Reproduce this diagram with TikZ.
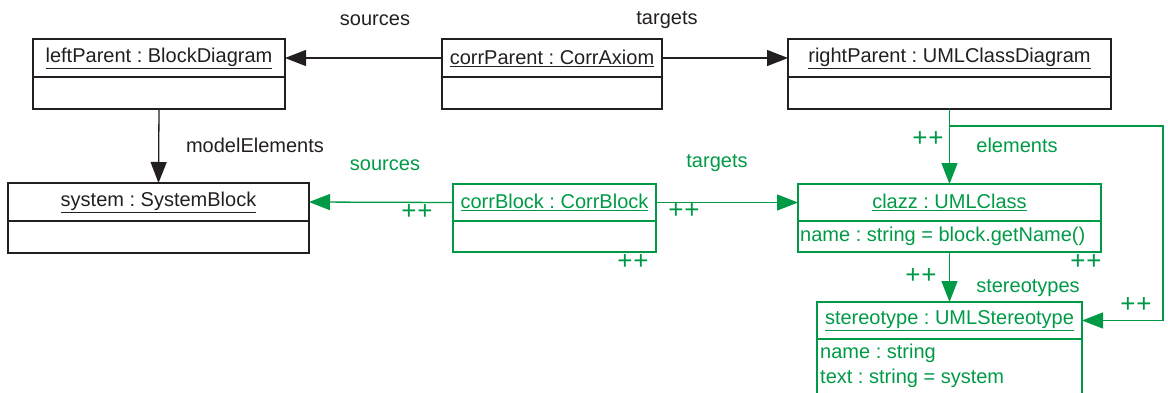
\documentclass[tikz,border=0pt]{standalone}
\usepackage{fontspec}
\setmainfont{Liberation Sans}
\usetikzlibrary{arrows.meta,positioning}
\definecolor{umlgreen}{RGB}{0,154,70}
\definecolor{umlblack}{RGB}{35,31,32}
\frenchspacing
\begin{document}
\begin{tikzpicture}[x=1pt,y=-1pt,
  font=\fontsize{20}{24}\selectfont\frenchspacing,
  bbox/.style={draw=umlblack,line width=2pt,rectangle,inner sep=0pt,outer sep=0pt,text=umlblack},
  gbox/.style={draw=umlgreen,line width=1.8pt,rectangle,inner sep=0pt,outer sep=0pt,text=umlgreen},
  conn/.style={draw=umlblack,line width=1.3pt,-{Triangle[length=21pt,width=16pt]}},
  gconn/.style={draw=umlgreen,line width=1.3pt,-{Triangle[length=21pt,width=16pt]}},
  blabel/.style={text=umlblack,inner sep=0pt},
  glabel/.style={text=umlgreen,inner sep=0pt},
  plus/.style={text=umlgreen,inner sep=0pt,font=\fontsize{26}{28}\selectfont},
  attr/.style={text=umlgreen,inner sep=0pt,anchor=west}]
\useasboundingbox (0,0) rectangle (1168,392);
% black boxes
\node[bbox,minimum width=252pt,minimum height=38pt] (lp) at (159,58) {\underline{leftParent : BlockDiagram}};
\node[bbox,minimum width=252pt,minimum height=32pt,anchor=north] (lpa) at (lp.south) {};
\node[bbox,minimum width=220pt,minimum height=38pt] (cp) at (552,58) {\underline{corrParent : CorrAxiom}};
\node[bbox,minimum width=220pt,minimum height=32pt,anchor=north] (cpa) at (cp.south) {};
\node[bbox,minimum width=323pt,minimum height=38pt] (rp) at (949.5,58) {\underline{rightParent : UMLClassDiagram}};
\node[bbox,minimum width=323pt,minimum height=32pt,anchor=north] (rpa) at (rp.south) {};
\node[bbox,minimum width=301pt,minimum height=38pt] (sys) at (158.5,202) {\underline{system : SystemBlock}};
\node[bbox,minimum width=301pt,minimum height=32pt,anchor=north] (sysa) at (sys.south) {};
% green boxes
\node[gbox,minimum width=203pt,minimum height=37pt] (cb) at (554.5,202.5) {\underline{corrBlock : CorrBlock}};
\node[gbox,minimum width=203pt,minimum height=31pt,anchor=north] (cba) at (cb.south) {};
\node[gbox,minimum width=303pt,minimum height=37pt] (cz) at (949.5,202.5) {\underline{clazz : UMLClass}};
\node[gbox,minimum width=303pt,minimum height=31pt,anchor=north] (cza) at (cz.south) {};
\node[attr] (czt) at (800,236) {name : string = block.getName()};
\node[gbox,minimum width=265pt,minimum height=37pt] (st) at (949.5,320.5) {\underline{stereotype : UMLStereotype}};
\node[gbox,minimum width=265pt,minimum height=58pt,anchor=north] (sta) at (st.south) {};
\node[attr] (st1) at (820,353) {name : string};
\node[attr] (st2) at (820,378) {text : string = system};
% black connectors
\draw[conn] (cp.west) -- (lp.east);
\draw[conn] (cp.east) -- (rp.west);
\draw[conn] (lpa.south) -- (sys.north);
% green connectors
\draw[gconn] (cb.west) -- (sys.east);
\draw[gconn] (cb.east) -- (cz.west);
\draw[gconn] (rpa.south) -- (cz.north);
\draw[gconn] (cza.south) -- (st.north);
\coordinate (br) at (949.5,126);
\coordinate (rc) at (1163,126);
\draw[gconn] (br) -- (rc) |- (st.east);
% labels
\node[blabel] (l1) at (375,20) {sources};
\node[blabel] (l2) at (667,20) {targets};
\node[blabel] (l3) at (255,145) {modelElements};
\node[glabel] (l4) at (385,165) {sources};
\node[glabel] (l5) at (717,163) {targets};
\node[glabel] (l6) at (1017,145) {elements};
\node[glabel] (l7) at (1028,288) {stereotypes};
\node[plus] (p1) at (417,212) {+\kern1pt+};
\node[plus] (p2) at (684,211) {+\kern1pt+};
\node[plus] (p3) at (633,262) {+\kern1pt+};
\node[plus] (p4) at (1086,262) {+\kern1pt+};
\node[plus] (p5) at (928,139) {+\kern1pt+};
\node[plus] (p6) at (921,276) {+\kern1pt+};
\node[plus] (p7) at (1136,305) {+\kern1pt+};
\end{tikzpicture}
\end{document}
